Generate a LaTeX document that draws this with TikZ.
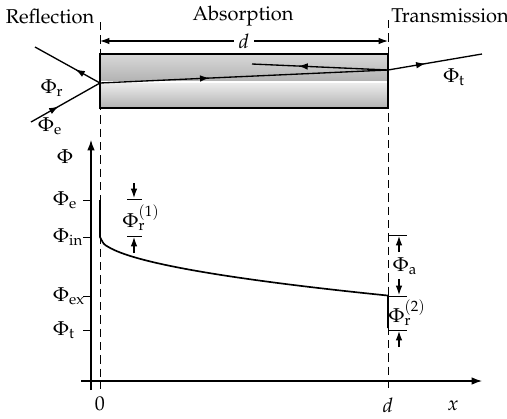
\documentclass[tikz,border=0pt]{standalone}
\usepackage[T1]{fontenc}
\usepackage{mathpazo}
\usepackage{tikz}
\usetikzlibrary{arrows.meta,positioning,calc,decorations.markings}

\tikzset{
  ray/.style={line width=0.8pt, postaction={decorate},
    decoration={markings, mark=at position #1 with {\arrow{Latex[length=2mm,width=1.4mm]}}}},
  ray/.default=0.4,
  levtick/.style={line width=0.6pt},
  dimarrow/.style={line width=0.7pt, -{Latex[length=2mm,width=1.4mm]}},
  philbl/.style={inner sep=1pt}
}

\begin{document}
\begin{tikzpicture}[x=0.6pt, y=-0.6pt, font=\fontsize{12}{14}\selectfont]
\useasboundingbox (0,0) rectangle (507,418);
% region titles
\node (lblRefl) at (50,16) {Reflection};
\node (lblAbs) at (243,16) {Absorption};
\node (lblTrans) at (450,16) {Transmission};
% boundaries of the slab
\coordinate (bndLtop) at (100,22);
\coordinate (bndLbot) at (100,389);
\coordinate (bndRtop) at (388,20);
\coordinate (bndRbot) at (388,393);
\draw[dashed, line width=0.6pt, dash pattern=on 5pt off 3pt] (bndLtop) -- (bndLbot);
\draw[dashed, line width=0.6pt, dash pattern=on 5pt off 3pt] (bndRtop) -- (bndRbot);
% slab
\shade[top color=gray!30, bottom color=gray!60] (100,54) rectangle (388,81);
\fill[white] (100,81) rectangle (388,83);
\shade[top color=gray!15, bottom color=gray!60] (100,83) rectangle (388,108);
\draw[line width=1pt] (100,54) rectangle (388,108);
% thickness d
\coordinate (dimL) at (100,41);
\coordinate (dimR) at (388,41);
\draw[line width=0.7pt, {Latex[length=2mm,width=1.4mm]}-{Latex[length=2mm,width=1.4mm]}] (dimL) -- (dimR)
  node[midway, fill=white, inner sep=3pt] (lblD) {$d$};
% rays
\coordinate (hit) at (100,83);
\coordinate (exit) at (388,70);
\coordinate (srcE) at (31,122);
\coordinate (endR) at (35,47);
\coordinate (endT) at (482,54);
\coordinate (endBack) at (252,64);
\draw[ray=0.4] (srcE) -- (hit);
\draw[ray=0.38] (hit) -- (endR);
\draw[ray=0.38] (hit) -- (exit);
\draw[ray=0.66] (exit) -- (endBack);
\draw[ray=0.4] (exit) -- (endT);
\node[philbl] (lblPr) at (52,88) {$\Phi_{\mathrm{r}}$};
\node[philbl] (lblPe) at (50,126) {$\Phi_{\mathrm{e}}$};
\node[philbl] (lblPt) at (454,77) {$\Phi_{\mathrm{t}}$};
% axes
\coordinate (yBot) at (91,390);
\coordinate (yTop) at (91,140);
\coordinate (xLeft) at (81,381);
\coordinate (xRight) at (482,381);
\draw[line width=0.7pt, -{Latex[length=2.2mm,width=1.6mm]}] (yBot) -- (yTop);
\draw[line width=0.7pt, -{Latex[length=2.2mm,width=1.6mm]}] (xLeft) -- (xRight);
\node (lblPhi) at (65,157) {$\Phi$};
\node (lblZero) at (100,404) {0};
\node (lblDx) at (388,405) {$d$};
\node (lblX) at (453,406) {$x$};
% levels on the Phi axis
\foreach \lev/\txt in {200/e, 237/in, 296/ex, 330/t}{
  \draw[levtick] (83,\lev) -- (91,\lev);
  \node[anchor=west, philbl] at (51,\lev) {$\Phi_{\mathrm{\txt}}$};
}
% flux curve
\coordinate (fE) at (100,200);
\coordinate (fIn) at (100,237);
\coordinate (fEx) at (388,296);
\coordinate (fT) at (388,328);
\draw[line width=1pt] (fE) -- (fIn)
  -- plot[domain=0:288, samples=80, smooth] ({100+\x},{237+3.45*sqrt(\x)})
  -- (fT);
% reflected part at x=0
\draw[levtick] (127,199) -- (142,199);
\draw[levtick] (127,236) -- (142,236);
\draw[dimarrow] (134,183) -- (134,198);
\draw[dimarrow] (134,253) -- (134,237);
\node[philbl] (lblPr1) at (141,218) {$\Phi_{\mathrm{r}}^{(1)}$};
% absorbed and reflected part at x=d
\draw[levtick] (388,235) -- (407,235);
\draw[levtick] (388,296) -- (407,296);
\draw[levtick] (388,330) -- (407,330);
\draw[dimarrow] (399,252) -- (399,236);
\draw[dimarrow] (399,279) -- (399,295);
\draw[dimarrow] (399,347) -- (399,331);
\node[philbl] (lblPa) at (405,266) {$\Phi_{\mathrm{a}}$};
\node[philbl] (lblPr2) at (407,313) {$\Phi_{\mathrm{r}}^{(2)}$};
\end{tikzpicture}
\end{document}
